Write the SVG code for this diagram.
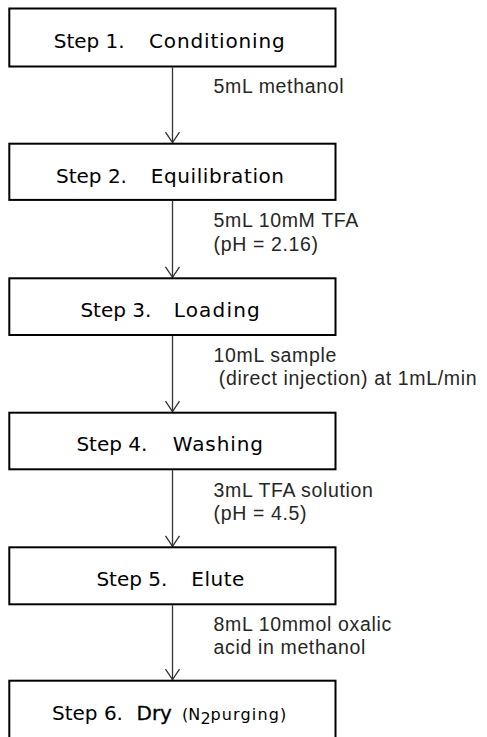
<svg xmlns="http://www.w3.org/2000/svg" width="487" height="737" viewBox="0 0 487 737">
<style>
.box{fill:#fff;stroke:#000;stroke-width:2}
.step{font-family:"DejaVu Sans",sans-serif;font-size:20px;fill:#000}
.small{font-family:"DejaVu Sans",sans-serif;font-size:16px}
.lbl{font-family:"Liberation Sans",Arial,sans-serif;font-size:19.5px;letter-spacing:0.65px;fill:#262626}
.conn{stroke:#333;stroke-width:1.3;fill:none;marker-end:url(#v)}
</style>
<defs>
<marker id="v" markerUnits="userSpaceOnUse" viewBox="-12 -8 14 16" refX="0" refY="0" markerWidth="14" markerHeight="16" orient="auto" overflow="visible">
<path d="M-10.5,-7 L0,0 L-10.5,7" fill="none" stroke="#333" stroke-width="1.3"/>
</marker>
</defs>
<rect width="487" height="737" fill="#fff"/>
<g id="connectors">
<line class="conn" x1="172.5" y1="67.5" x2="172.5" y2="142.7"/>
<line class="conn" x1="172.5" y1="201" x2="172.5" y2="277.3"/>
<line class="conn" x1="172.5" y1="336" x2="172.5" y2="411.7"/>
<line class="conn" x1="172.5" y1="470.3" x2="172.5" y2="546.3"/>
<line class="conn" x1="172.5" y1="605.3" x2="172.5" y2="679.7"/>
</g>
<g id="step1">
<rect class="box" x="9.3" y="8.5" width="326.2" height="58"/>
<text class="step" y="47.5"><tspan x="53.7">Step 1.</tspan><tspan x="149" letter-spacing="0.85">Conditioning</tspan></text>
</g>
<g id="label1">
<text class="lbl" x="213.5" y="93">5mL methanol</text>
</g>
<g id="step2">
<rect class="box" x="9.3" y="143.7" width="326.2" height="56.2"/>
<text class="step" y="182.7"><tspan x="56">Step 2.</tspan><tspan x="150.7" letter-spacing="0.6">Equilibration</tspan></text>
</g>
<g id="label2">
<text class="lbl"><tspan x="213.5" y="227.3">5mL 10mM TFA</tspan><tspan x="213.5" y="250.5">(pH = 2.16)</tspan></text>
</g>
<g id="step3">
<rect class="box" x="9.3" y="278.3" width="326.2" height="56.7"/>
<text class="step" y="316.5"><tspan x="80.4">Step 3.</tspan><tspan x="173.7" letter-spacing="1.2">Loading</tspan></text>
</g>
<g id="label3">
<text class="lbl"><tspan x="213.5" y="361.7">10mL sample</tspan><tspan x="218.8" y="385">(direct injection) at 1mL/min</tspan></text>
</g>
<g id="step4">
<rect class="box" x="9.3" y="412.7" width="326.2" height="56.6"/>
<text class="step" y="450.7"><tspan x="76.4">Step 4.</tspan><tspan x="172.8" letter-spacing="0.9">Washing</tspan></text>
</g>
<g id="label4">
<text class="lbl"><tspan x="213.5" y="496.7">3mL TFA solution</tspan><tspan x="213.5" y="520">(pH = 4.5)</tspan></text>
</g>
<g id="step5">
<rect class="box" x="9.3" y="547.3" width="326.2" height="57"/>
<text class="step" y="586"><tspan x="96.4">Step 5.</tspan><tspan x="191.3" letter-spacing="0.5">Elute</tspan></text>
</g>
<g id="label5">
<text class="lbl"><tspan x="213.5" y="630.7">8mL 10mmol oxalic</tspan><tspan x="213.5" y="654.3">acid in methanol</tspan></text>
</g>
<g id="step6">
<rect class="box" x="9.3" y="680.7" width="326.2" height="62"/>
<text class="step" y="720"><tspan x="52">Step 6.</tspan><tspan x="136.5" stroke="#000" stroke-width="0.3">Dry</tspan><tspan class="small" x="182">(N</tspan><tspan class="small" font-size="11px" x="200.5" dy="3.5">2</tspan><tspan class="small" x="210.5" dy="-3.5" letter-spacing="1.15">purging)</tspan></text>
</g>
</svg>
